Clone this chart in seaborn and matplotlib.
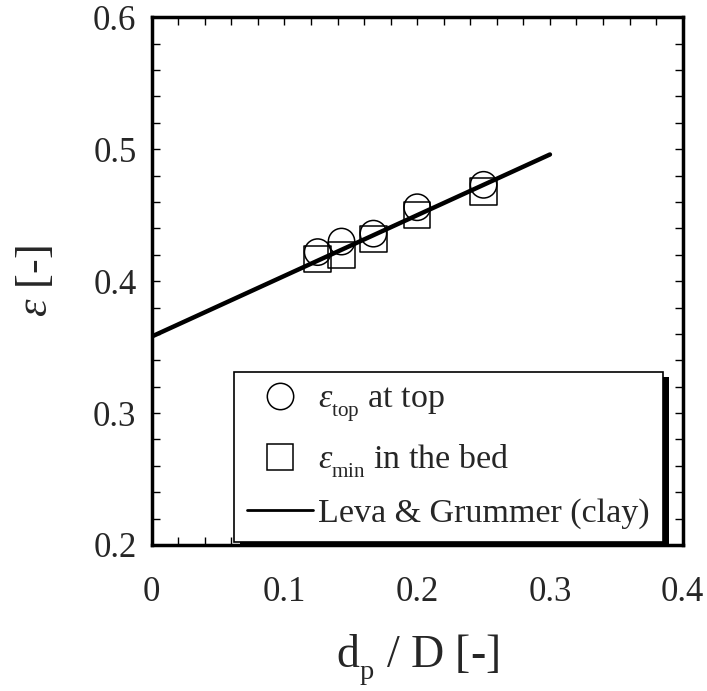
import matplotlib
matplotlib.use('Agg')
import matplotlib.pyplot as plt
import matplotlib.patheffects as pe
from matplotlib.lines import Line2D
from matplotlib.ticker import MultipleLocator, FixedLocator, FuncFormatter
import seaborn as sns

# values
dp_D = [0.125, 0.143, 0.167, 0.200, 0.250]
eps_top = [0.422, 0.430, 0.436, 0.456, 0.473]
eps_min = [0.417, 0.420, 0.432, 0.450, 0.468]
leva_x = [0.0, 0.3]
leva_y = [0.358, 0.496]

x_ticks = [0, 0.1, 0.2, 0.3, 0.4]
y_ticks = [0.2, 0.3, 0.4, 0.5, 0.6]
legend_labels = [r'$\varepsilon_{\rm top}$ at top',
                 r'$\varepsilon_{\rm min}$ in the bed',
                 'Leva & Grummer (clay)']

sns.set_style('ticks')
plt.rcParams['font.family'] = ['Liberation Serif', 'DejaVu Serif']
plt.rcParams['mathtext.fontset'] = 'custom'
plt.rcParams['mathtext.rm'] = 'Liberation Serif'
plt.rcParams['mathtext.it'] = 'Liberation Serif:italic'

# subscripts in the original sit lower and smaller than mathtext's default
try:
    from matplotlib import _mathtext
    _mathtext.FontConstantsBase.sub1 = 0.6
    _mathtext.SHRINK_FACTOR = 0.62
except (ImportError, AttributeError):
    pass

fig = plt.figure(figsize=(7.07, 6.91), dpi=100)
ax = fig.add_axes([0.2146, 0.2113, 0.751, 0.7637])

sns.scatterplot(x=dp_D, y=eps_min, marker='s', s=19 ** 2, color='black',
                facecolor='none', edgecolor='black', linewidth=1.1,
                ax=ax, legend=False)
sns.scatterplot(x=dp_D, y=eps_top, marker='o', s=19 ** 2, color='black',
                facecolor='none', edgecolor='black', linewidth=1.1,
                ax=ax, legend=False)
sns.lineplot(x=leva_x, y=leva_y, color='black', linewidth=3.2, ax=ax)

ax.set_xlim(0, 0.4)
ax.set_ylim(0.2, 0.6)
ax.xaxis.set_major_locator(FixedLocator(x_ticks))
ax.yaxis.set_major_locator(FixedLocator(y_ticks))
ax.xaxis.set_minor_locator(MultipleLocator(0.02))
ax.yaxis.set_minor_locator(MultipleLocator(0.02))
fmt = FuncFormatter(lambda v, p: '%g' % round(v, 2))
ax.xaxis.set_major_formatter(fmt)
ax.yaxis.set_major_formatter(fmt)
ax.tick_params(which='both', direction='in', top=True, right=True,
               length=6, width=1, color='black')
ax.tick_params(which='major', labelsize=25)
ax.tick_params(axis='x', which='major', pad=22)
ax.tick_params(axis='y', which='major', pad=11)
for sp in ax.spines.values():
    sp.set_linewidth(2.5)
    sp.set_color('black')

ax.set_xlabel(r'd$_{\rm p}$ / D [-]', fontsize=33, labelpad=17)
ax.set_ylabel(r'$\varepsilon$ [-]', fontsize=32, labelpad=27)

handles = [
    Line2D([], [], marker='o', ls='', ms=19, mfc='none', mec='black', mew=1.1),
    Line2D([], [], marker='s', ls='', ms=19, mfc='none', mec='black', mew=1.1),
    Line2D([], [], color='black', lw=2),
]
leg = ax.legend(handles, legend_labels, loc='lower left',
                bbox_to_anchor=(0.155, 0.006), fontsize=24.5, frameon=True,
                fancybox=False, edgecolor='black', framealpha=1,
                handlelength=1.95, handletextpad=0.15, borderpad=0.38,
                labelspacing=0.52, borderaxespad=0)
frame = leg.get_frame()
frame.set_linewidth(1.2)
frame.set_path_effects([pe.SimplePatchShadow(offset=(4, -4),
                                             shadow_rgbFace='black', alpha=1),
                        pe.Normal()])

fig.savefig('out.png', dpi=100)
